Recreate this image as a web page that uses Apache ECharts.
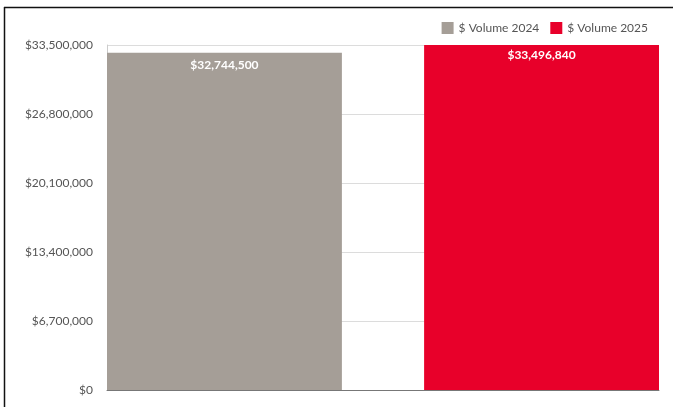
<!DOCTYPE html>
<html>
<head>
<meta charset="utf-8">
<script src="https://cdn.jsdelivr.net/npm/echarts@6/dist/echarts.min.js"></script>
<style>
  html, body { margin: 0; padding: 0; background: #fff; }
  #chart { width: 673px; height: 407px; }
</style>
</head>
<body>
<div id="chart"></div>
<script>
// Sales volume comparison, one bar per year
const categories = ['Volume'];
const seriesNames = ['$ Volume 2024', '$ Volume 2025'];
const volume2024 = [32744500];
const volume2025 = [33496840];
const yTicks = { min: 0, max: 33500000, interval: 6700000 };
const seriesColors = ['#A59E97', '#E8002A'];

const money = v => '$' + Math.round(v).toLocaleString('en-US');

const chart = echarts.init(document.getElementById('chart'));
chart.setOption({
  animation: false,
  textStyle: { fontFamily: 'Lato, "Open Sans", sans-serif' },
  grid: { left: 107, right: 14, top: 45, bottom: 17 },
  legend: {
    right: 20,
    top: 17,
    itemWidth: 12,
    itemHeight: 12,
    itemGap: 11,
    icon: 'rect',
    textStyle: { color: '#555', fontSize: 12, fontFamily: 'Lato, sans-serif' },
    data: seriesNames
  },
  xAxis: {
    type: 'category',
    data: categories,
    axisLine: { lineStyle: { color: '#777', width: 1 } },
    axisTick: { show: false },
    axisLabel: { show: false }
  },
  yAxis: {
    type: 'value',
    min: yTicks.min,
    max: yTicks.max,
    interval: yTicks.interval,
    axisLine: { show: true, lineStyle: { color: '#ccc' } },
    axisTick: { show: false },
    splitLine: { lineStyle: { color: '#dcdcdc' } },
    axisLabel: {
      color: '#555',
      fontSize: 12,
      margin: 14,
      formatter: money
    }
  },
  series: [
    {
      name: seriesNames[0],
      type: 'bar',
      data: volume2024,
      barGap: '35%',
      barCategoryGap: '0%',
      itemStyle: { color: seriesColors[0] },
      label: {
        show: true,
        position: 'insideTop',
        distance: 6,
        color: '#fff',
        fontWeight: 'bold',
        fontSize: 12,
        formatter: p => money(p.value)
      }
    },
    {
      name: seriesNames[1],
      type: 'bar',
      data: volume2025,
      itemStyle: { color: seriesColors[1] },
      label: {
        show: true,
        position: 'insideTop',
        distance: 4,
        color: '#fff',
        fontWeight: 'bold',
        fontSize: 12,
        formatter: p => money(p.value)
      }
    }
  ],
  graphic: [
    { type: 'line', shape: { x1: 4, y1: 7.5, x2: 673, y2: 7.5 }, style: { stroke: '#111', lineWidth: 1.5 } },
    { type: 'line', shape: { x1: 4.5, y1: 7, x2: 4.5, y2: 407 }, style: { stroke: '#111', lineWidth: 1.5 } }
  ]
});
</script>
</body>
</html>
